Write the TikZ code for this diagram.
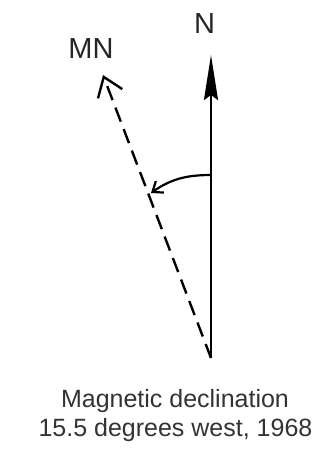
\documentclass[tikz,border=0pt]{standalone}
\usepackage{fontspec}
\setmainfont{Liberation Sans}
\usetikzlibrary{arrows.meta}
\begin{document}
\begin{tikzpicture}[x=1pt,y=-1pt,
  lbl/.style={font=\fontsize{29}{34}\selectfont, anchor=base, inner sep=0pt, text=black!85},
  captiontext/.style={font=\fontsize{25}{29}\selectfont, anchor=base, inner sep=0pt, text=black!80},
  trueline/.style={line width=2.6pt, -{Stealth[length=45pt,width=14pt,inset=5pt]}},
  magline/.style={line width=2.4pt, dash pattern=on 15pt off 8pt, -{Straight Barb[length=18pt,width=26pt,line width=2.4pt]}},
  anglearc/.style={line width=2.2pt, -{Straight Barb[length=9pt,width=14pt,line width=2.2pt]}}]
\useasboundingbox (0,0) rectangle (334,453);
\coordinate (O) at (211,358);
\coordinate (Ntip) at (211,55);
\coordinate (MNtip) at (103,75);
\coordinate (A1) at (211,175);
\coordinate (A2) at (151,193);
\node[lbl] (N) at (204.5,33) {N};
\node[lbl] (MN) at (91,58) {MN};
\draw[trueline] (O) -- (Ntip);
\draw[magline] (O) -- (MNtip);
\draw[anglearc] (A1) to[out=180,in=35] (A2);
\node[captiontext] (c1) at (175,407) {Magnetic declination};
\node[captiontext] (c2) at (175.5,436) {15.5 degrees west, 1968};
\end{tikzpicture}
\end{document}
